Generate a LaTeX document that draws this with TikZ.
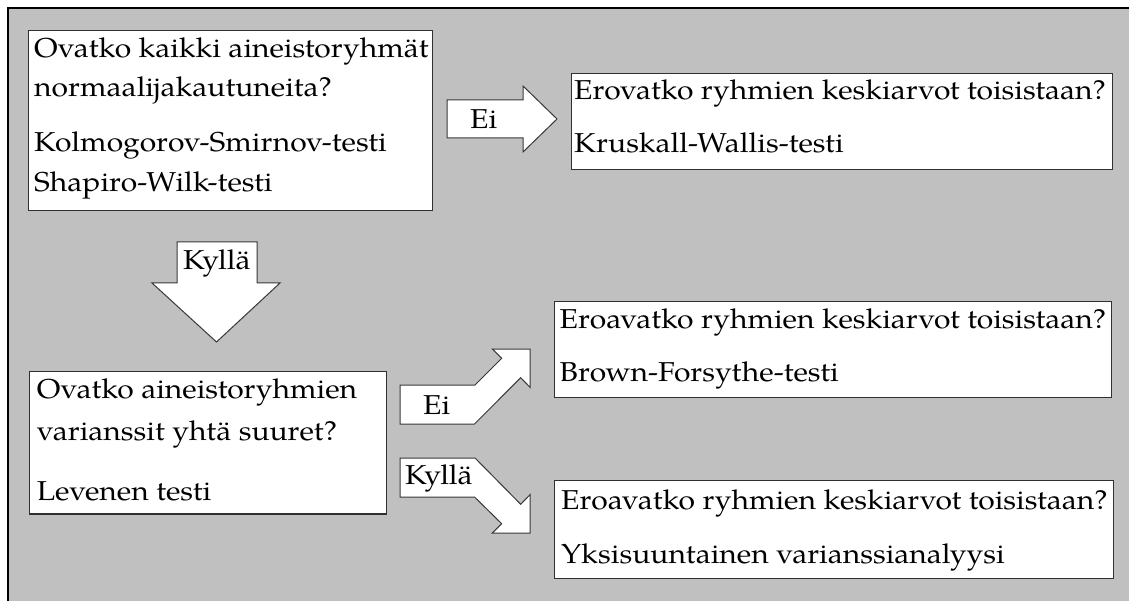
\documentclass[tikz,border=0pt]{standalone}
\usepackage{fontspec}
\setmainfont{TeX Gyre Pagella}[FakeStretch=1.1]
\definecolor{bg}{HTML}{C0C0C0}
\definecolor{boxline}{HTML}{303030}
\definecolor{arrline}{HTML}{383838}
\newcommand{\fs}{\fontsize{27.3}{32}\selectfont}
\begin{document}
\begin{tikzpicture}[x=1pt,y=-1pt,
  box/.style={draw=boxline, line width=1.4pt, fill=white, inner sep=0pt, anchor=north west},
  blk/.style={draw=arrline, line width=1pt, fill=white, line join=miter},
  txt/.style={anchor=base west, inner sep=0pt, font=\fs, text=black},
]
\useasboundingbox (0,0) rectangle (1129,601);
\fill[white] (0,0) rectangle (1129,601);
\begin{scope}
\clip (0,0) rectangle (1129,601);
\draw[fill=bg, line width=2pt] (8,8) rectangle (1140,612);
\end{scope}

% boxes
\node[box, minimum width=404, minimum height=180] (q1) at (28,30) {};
\node[box, minimum width=540.5, minimum height=96] (r1) at (571,73) {};
\node[box, minimum width=357, minimum height=142.5] (q2) at (29,370.7) {};
\node[box, minimum width=557, minimum height=96] (r2) at (554,301) {};
\node[box, minimum width=559, minimum height=98] (r3) at (554,480) {};

% box texts
\node[txt] (q1a) at (34,57.7) {Ovatko kaikki aineistoryhmät};
\node[txt] (q1b) at (34,96.7) {normaalijakautuneita?};
\node[txt] (q1c) at (34,151.7) {Kolmogorov-Smirnov-testi};
\node[txt] (q1d) at (34,191.7) {Shapiro-Wilk-testi};

\node[txt] (r1a) at (574,100) {Erovatko ryhmien keskiarvot toisistaan?};
\node[txt] (r1b) at (574,153) {Kruskall-Wallis-testi};

\node[txt] (q2a) at (36.7,398.3) {Ovatko aineistoryhmien};
\node[txt] (q2b) at (36.7,440) {varianssit yhtä suuret?};
\node[txt] (q2c) at (36.7,500) {Levenen testi};

\node[txt] (r2a) at (559.5,328) {Eroavatko ryhmien keskiarvot toisistaan?};
\node[txt] (r2b) at (559.5,381.7) {Brown-Forsythe-testi};

\node[txt] (r3a) at (561,509) {Eroavatko ryhmien keskiarvot toisistaan?};
\node[txt] (r3b) at (561,563) {Yksisuuntainen varianssianalyysi};

% block arrows
\draw[blk] (447,100) -- (523,100) -- (523,86) -- (557,119) -- (523,152) -- (523,138) -- (447,138) -- cycle;
\node[txt] (ei1) at (470,129) {Ei};

\draw[blk] (177,242) -- (257,242) -- (257,283) -- (280,283) -- (216.5,342) -- (152,283) -- (177,283) -- cycle;
\node[txt] (ky1) at (183,270) {Kyllä};

\draw[blk] (400,385) -- (475,385) -- (501.7,358.3) -- (492.3,349) -- (530,349) -- (530,387.3) -- (520.7,377.7) -- (474.5,424) -- (400,424) -- cycle;
\node[txt] (ei2) at (423,414) {Ei};

\draw[blk] (400,497) -- (474.5,497) -- (501.7,523.7) -- (492.3,533) -- (530,533) -- (530,494.7) -- (520.7,504.3) -- (475,458) -- (400,458) -- cycle;
\node[txt] (ky2) at (405,484) {Kyllä};
\end{tikzpicture}
\end{document}
